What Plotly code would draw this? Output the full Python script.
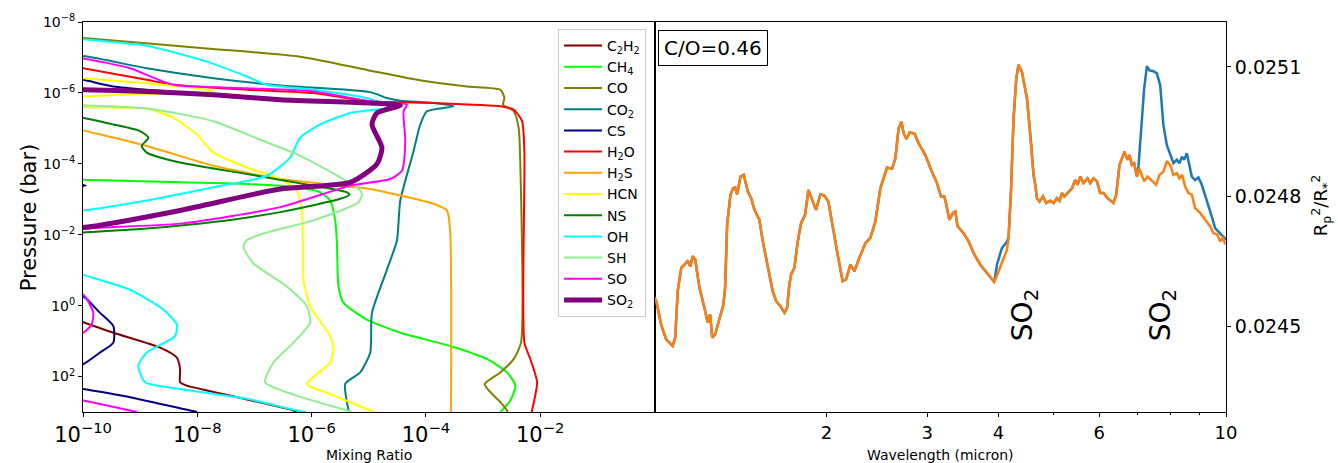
import numpy as np
import plotly.graph_objects as go

# ---------------- Left panel: mixing-ratio profiles (log10 values) ----------------
species = ["C<sub>2</sub>H<sub>2</sub>", "CH<sub>4</sub>", "CO", "CO<sub>2</sub>", "CS",
           "H<sub>2</sub>O", "H<sub>2</sub>S", "HCN", "NS", "OH", "SH", "SO", "SO<sub>2</sub>"]
colors = ["#800000", "#00ff00", "#808000", "#008080", "#000080", "#ff0000", "#ffa500",
          "#ffff00", "#008000", "#00ffff", "#90ee90", "#ff00ff", "#800080"]
widths = [2, 2, 2, 2, 2, 2, 2, 2, 2, 2, 2, 2, 5]

c2h2_logP = [0.0, 0.467, 0.764, 1.183, 1.463, 1.790, 2.162, 2.257, 2.537, 2.957, 3.0]
c2h2_logX = [-10.8, -9.995, -9.469, -8.651, -8.359, -8.301, -8.301, -8.184, -7.426, -6.317, -6.26]

ch4_logP = [-3.60, -3.552, -3.477, -3.432, -3.337, -3.197, -2.965, -2.406, -1.846, -0.540, -0.076,
            0.392, 0.764, 1.139, 1.510, 1.883, 2.257, 2.677, 2.957, 3.0]
ch4_logX = [-11, -9.995, -8.301, -7.133, -6.258, -5.849, -5.674, -5.587, -5.559, -5.529, -5.441,
            -5.032, -4.448, -3.573, -2.930, -2.580, -2.434, -2.522, -2.669, -2.69]

co_logP = [-7.65, -7.552, -7.253, -7.021, -6.649, -6.350, -6.182, -6.090, -5.855, -5.670, -5.483,
           -5.015, -3.916, 1.035, 1.510, 1.883, 2.210, 2.442, 2.722, 2.957, 3.0]
co_logX = [-11, -9.995, -7.834, -6.200, -5.032, -4.082, -3.280, -2.697, -2.627, -2.650, -2.464,
           -2.377, -2.347, -2.335, -2.464, -2.697, -2.972, -2.872, -2.697, -2.580, -2.57]

co2_logP = [-7.10, -7.041, -6.694, -6.414, -6.210, -6.022, -5.855, -5.782, -5.715, -5.622, -5.483,
            -5.111, -4.364, -2.965, -1.846, -1.007, 0.204, 1.323, 1.883, 2.210, 2.957, 3.0]
co2_logX = [-11, -9.995, -8.884, -7.718, -6.550, -4.974, -4.683, -4.448, -3.865, -3.515, -3.982,
            -4.098, -4.215, -4.448, -4.506, -4.683, -4.944, -4.974, -5.149, -5.412, -5.354, -5.35]

cs_logP = [-6.65, -6.369, -6.182, -6.090, -6.05, None, -3.50, -3.385, -3.27, None,
           -0.60, -0.260, 0.204, 0.579, 1.043, 1.323, 1.650, 1.90, None, 2.20, 2.350, 2.582, 2.957, 3.0]
cs_logX = [-11, -9.995, -9.47, -8.884, -8.5, None, -10.4, -9.95, -10.4, None,
           -10.6, -9.995, -9.702, -9.469, -9.469, -9.702, -9.995, -10.5, None, -10.5, -9.995, -9.177, -8.126, -8.0]

h2o_logP = [-6.85, -6.694, -6.369, -6.229, -6.090, -5.994, -5.762, -5.715, -5.622, -5.530, -5.203,
            -4.364, 1.035, 1.510, 2.162, 2.957, 3.0]
h2o_logX = [-10.6, -9.995, -8.884, -8.419, -7.133, -5.972, -4.974, -3.865, -2.697, -2.464, -2.317,
            -2.277, -2.277, -2.172, -2.054, -2.142, -2.145]

h2s_logP = [-5.15, -4.943, -4.503, -3.944, -3.572, -3.292, -3.105, -2.873, -2.685, -2.034, 2.957, 3.0]
h2s_logX = [-10.5, -9.995, -8.884, -7.718, -6.550, -4.974, -4.448, -3.865, -3.632, -3.573, -3.561, -3.561]

hcn_logP = [-6.55, -6.414, -6.274, -6.090, -6.028, -5.972, -5.902, -5.80, -5.65, -5.594, -5.558,
            -5.295, -4.831, -4.316, -3.897, -3.572, -3.245, -2.593, -1.846, -0.727, 0.020, 0.859,
            1.231, 1.603, 2.210, 2.490, 2.957, 3.0]
hcn_logX = [-10.8, -9.995, -8.884, -7.833, -7.72, -8.884, -9.995, -11, -11, -9.995, -8.884,
            -8.419, -8.009, -7.718, -7.133, -6.550, -6.258, -6.170, -6.152, -6.142, -6.025, -5.674,
            -5.616, -5.674, -6.082, -5.674, -4.974, -4.9]

ns_logP = [-5.40, -5.295, -5.110, -4.923, -4.736, -4.503, -4.316, -4.036, -3.712, -3.385, -3.197,
           -3.133, -3.013, -2.638, -2.358, -2.173, -2.061, -1.95]
ns_logX = [-10.7, -9.995, -9.469, -9.002, -8.856, -8.972, -8.884, -8.301, -7.133, -5.967, -5.384,
           -5.338, -5.499, -6.550, -7.718, -8.884, -9.995, -11]

oh_logP = [-7.65, -7.516, -7.329, -6.881, -6.462, -6.229, -6.090, -5.855, -5.594, -5.552, -5.435,
           -5.110, -4.736, -4.176, -3.664, -3.337, -2.965, -2.685, -2.55, -1.25, -0.867, -0.448,
           0.112, 0.531, 0.859, 1.323, 1.698, 2.162, 2.350, 2.629, 2.957, 3.0]
oh_logX = [-10.8, -9.995, -8.884, -7.833, -7.133, -6.783, -5.967, -5.032, -4.606, -4.741, -5.324,
           -5.849, -6.200, -6.375, -6.783, -7.718, -8.884, -9.995, -11, -10.75, -9.995, -9.177,
           -8.594, -8.359, -8.389, -8.884, -9.032, -8.914, -8.301, -7.133, -6.259, -6.1]

sh_logP = [-5.75, -5.650, -5.558, -5.203, -4.643, -4.271, -3.617, -3.337, -3.152, -2.917, -2.406,
           -2.034, -1.846, -1.659, -1.194, -0.540, 0.020, 0.484, 1.043, 1.603, 2.162, 2.537, 2.957, 3.0]
sh_logX = [-11, -9.995, -8.884, -7.718, -6.842, -6.258, -5.499, -5.207, -5.120, -5.179, -5.967,
           -6.842, -7.133, -7.194, -7.019, -6.434, -6.082, -6.025, -6.317, -6.667, -6.813, -6.259, -5.382, -5.30]

so_logP = [-7.10, -6.973, -6.694, -6.229, -6.134, -6.042, -5.762, -5.670, -5.483, -4.643, -3.804,
           -3.572, -3.385, -2.778, -2.313, -2.182, -2.05, None, -0.55, -0.308, 0.204, 0.531, 0.764,
           1.0, None, 2.5, 2.677, 2.957, 3.0]
so_logX = [-10.8, -9.995, -9.177, -8.419, -7.133, -5.967, -4.974, -4.331, -4.391, -4.361, -4.420,
           -4.623, -5.324, -6.550, -8.301, -9.995, -11, None, -10.6, -9.995, -9.820, -9.848, -9.995,
           -10.6, None, -10.6, -9.995, -9.177, -9.05]

so2_logP = [-6.12, -6.090, -6.042, -5.950, -5.810, -5.715, -5.650, -5.435, -5.111, -4.456, -3.992,
            -3.477, -3.292, -2.685, -2.201, -2.12]
so2_logX = [-11, -9.995, -8.884, -7.718, -6.550, -4.974, -4.448, -4.856, -4.944, -4.769, -4.856,
            -5.324, -6.550, -8.301, -9.995, -11]

profiles = [(c2h2_logX, c2h2_logP), (ch4_logX, ch4_logP), (co_logX, co_logP), (co2_logX, co2_logP),
            (cs_logX, cs_logP), (h2o_logX, h2o_logP), (h2s_logX, h2s_logP), (hcn_logX, hcn_logP),
            (ns_logX, ns_logP), (oh_logX, oh_logP), (sh_logX, sh_logP), (so_logX, so_logP),
            (so2_logX, so2_logP)]

# ---------------- Right panel: transmission spectrum ----------------
wavelength = [1.000, 1.007, 1.027, 1.048, 1.076, 1.087, 1.098, 1.114, 1.136, 1.143,
              1.155, 1.167, 1.178, 1.199, 1.223, 1.239, 1.251, 1.262, 1.277, 1.299,
              1.320, 1.329, 1.340, 1.358, 1.373, 1.384, 1.395, 1.414, 1.433, 1.456,
              1.476, 1.496, 1.526, 1.547, 1.578, 1.610, 1.632, 1.661, 1.688, 1.706,
              1.722, 1.734, 1.757, 1.781, 1.805, 1.835, 1.859, 1.884, 1.917, 1.951,
              1.982, 2.015, 2.050, 2.092, 2.134, 2.164, 2.202, 2.237, 2.277, 2.339,
              2.386, 2.435, 2.484, 2.518, 2.552, 2.604, 2.639, 2.674, 2.704, 2.729,
              2.759, 2.795, 2.849, 2.899, 2.978, 3.047, 3.121, 3.172, 3.215, 3.241,
              3.280, 3.329, 3.360, 3.391, 3.474, 3.545, 3.617, 3.716, 3.818, 3.931,
              4.000, 4.081, 4.138, 4.164, 4.205, 4.249, 4.295, 4.335, 4.395, 4.485,
              4.558, 4.605, 4.637, 4.669, 4.718, 4.783, 4.847, 4.926, 4.992, 5.060,
              5.114, 5.163, 5.211, 5.302, 5.375, 5.447, 5.498, 5.558, 5.632, 5.724,
              5.786, 5.864, 5.945, 6.024, 6.105, 6.204, 6.355, 6.425, 6.511, 6.643,
              6.724, 6.778, 6.844, 6.907, 6.983, 7.048, 7.125, 7.191, 7.287, 7.388,
              7.547, 7.648, 7.772, 7.880, 7.985, 8.092, 8.203, 8.290, 8.380, 8.482,
              8.595, 8.714, 8.830, 9.010, 9.193, 9.380, 9.506, 9.656, 9.762, 9.868,
              9.960, 10.0]
depth_no_so2 = [0.024565, 0.024558, 0.024504, 0.024469, 0.024454, 0.024473, 0.024581, 0.024635, 0.024646, 0.024652,
                0.024638, 0.024662, 0.024654, 0.024588, 0.024542, 0.024508, 0.024527, 0.024473, 0.024481, 0.024519,
                0.024550, 0.024588, 0.024735, 0.024804, 0.024819, 0.024821, 0.024805, 0.024846, 0.024850, 0.024812,
                0.024796, 0.024769, 0.024746, 0.024696, 0.024635, 0.024581, 0.024558, 0.024546, 0.024531, 0.024542,
                0.024596, 0.024619, 0.024635, 0.024696, 0.024738, 0.024758, 0.024815, 0.024796, 0.024769, 0.024805,
                0.024802, 0.024788, 0.024727, 0.024665, 0.024604, 0.024608, 0.024642, 0.024627, 0.024654, 0.024692,
                0.024704, 0.024742, 0.024819, 0.024842, 0.024867, 0.024864, 0.024888, 0.024958, 0.024973, 0.024946,
                0.024933, 0.024948, 0.024946, 0.024923, 0.024896, 0.024862, 0.024831, 0.024800, 0.024800, 0.024781,
                0.024746, 0.024762, 0.024765, 0.024731, 0.024715, 0.024696, 0.024669, 0.024642, 0.024623, 0.024602,
                0.024627, 0.024658, 0.024677, 0.024704, 0.024812, 0.024981, 0.025073, 0.025105, 0.025088, 0.025027,
                0.024927, 0.024850, 0.024827, 0.024796, 0.024788, 0.024800, 0.024785, 0.024790, 0.024785, 0.024796,
                0.024790, 0.024808, 0.024800, 0.024812, 0.024819, 0.024838, 0.024827, 0.024846, 0.024831, 0.024842,
                0.024831, 0.024842, 0.024835, 0.024808, 0.024808, 0.024796, 0.024785, 0.024804, 0.024873, 0.024904,
                0.024885, 0.024896, 0.024873, 0.024877, 0.024846, 0.024865, 0.024850, 0.024835, 0.024846, 0.024838,
                0.024827, 0.024850, 0.024858, 0.024882, 0.024873, 0.024850, 0.024854, 0.024842, 0.024850, 0.024823,
                0.024808, 0.024804, 0.024773, 0.024762, 0.024746, 0.024731, 0.024715, 0.024712, 0.024696, 0.024704,
                0.024692, 0.024690]

# segments where the full model (with SO2 opacity) differs
band1_wl = [3.931, 3.974, 4.055, 4.121, 4.164]
band1_depth = [0.024602, 0.024642, 0.024681, 0.024692, 0.024704]
band2_wl = [6.983, 7.028, 7.125, 7.191, 7.270, 7.346, 7.466, 7.569, 7.670, 7.772, 7.880, 7.985, 8.092,
            8.203, 8.290, 8.370, 8.448, 8.540, 8.630, 8.714, 8.830, 8.948, 9.072, 9.193, 9.316, 9.441,
            9.571, 9.695, 9.789, 9.892, 10.0]
band2_depth = [0.024846, 0.024869, 0.024965, 0.025050, 0.025102, 0.025092, 0.025090, 0.025085, 0.025058,
               0.024965, 0.024919, 0.024896, 0.024877, 0.024885, 0.024877, 0.024892, 0.024885, 0.024900,
               0.024873, 0.024846, 0.024838, 0.024844, 0.024827, 0.024804, 0.024781, 0.024754, 0.024727,
               0.024719, 0.024712, 0.024708, 0.024700]

wl_arr = np.array(wavelength)
dp_arr = np.array(depth_no_so2)
m1 = wl_arr < band1_wl[0]
m2 = (wl_arr > band1_wl[-1]) & (wl_arr < band2_wl[0])
full_wl = np.concatenate([wl_arr[m1], band1_wl, wl_arr[m2], band2_wl])
full_dp = np.concatenate([dp_arr[m1], band1_depth, dp_arr[m2], band2_depth])

FONT = "DejaVu Sans"
fig = go.Figure()

for name, col, w, (lx, lp) in zip(species, colors, widths, profiles):
    x = 10 ** np.array(lx, dtype=float)
    y = 10 ** np.array(lp, dtype=float)
    fig.add_trace(go.Scatter(x=x, y=y, mode="lines", name=name,
                             line=dict(color=col, width=w, shape="spline", smoothing=0.6),
                             xaxis="x", yaxis="y"))

fig.add_trace(go.Scatter(x=full_wl, y=full_dp, mode="lines", line=dict(color="#1f77b4", width=2.5),
                         xaxis="x2", yaxis="y2", showlegend=False))
fig.add_trace(go.Scatter(x=wl_arr, y=dp_arr, mode="lines", line=dict(color="#ff7f0e", width=2.5),
                         xaxis="x2", yaxis="y2", showlegend=False))

axis_common = dict(showline=True, mirror=True, linecolor="black", linewidth=1, ticks="outside",
                   ticklen=4, tickcolor="black", showgrid=False, zeroline=False)

fig.update_layout(
    width=1338, height=463,
    margin=dict(l=83, r=112, t=20, b=51),
    paper_bgcolor="white", plot_bgcolor="white",
    font=dict(family=FONT, color="black"),
    xaxis=dict(domain=[0, 0.5], type="log", range=[-10, 0], anchor="y",
               tickvals=[1e-10, 1e-8, 1e-6, 1e-4, 1e-2],
               ticktext=["10<sup>−10</sup>", "10<sup>−8</sup>", "10<sup>−6</sup>", "10<sup>−4</sup>", "10<sup>−2</sup>"],
               tickfont=dict(size=21), **axis_common),
    yaxis=dict(domain=[0, 1], type="log", range=[3, -8], anchor="x",
               tickvals=[1e-8, 1e-6, 1e-4, 1e-2, 1e0, 1e2],
               ticktext=["10<sup>−8</sup>", "10<sup>−6</sup>", "10<sup>−4</sup>", "10<sup>−2</sup>", "10<sup>0</sup>", "10<sup>2</sup>"],
               tickfont=dict(size=14), **axis_common),
    xaxis2=dict(domain=[0.5, 1], type="log", range=[0, 1], anchor="y2",
                tickvals=[2, 3, 4, 6, 10], ticktext=["2", "3", "4", "6", "10"],
                tickfont=dict(size=18),
                minor=dict(tickvals=[5, 7, 8, 9], ticks="outside", ticklen=2, tickcolor="black"),
                **axis_common),
    yaxis2=dict(domain=[0, 1], range=[0.024301, 0.025204], anchor="x2", side="right",
                tickvals=[0.0245, 0.0248, 0.0251], ticktext=["0.0245", "0.0248", "0.0251"],
                tickfont=dict(size=19), **axis_common),
    legend=dict(x=0.4926, xanchor="right", y=0.982, yanchor="top", bgcolor="white",
                bordercolor="#cccccc", borderwidth=1, font=dict(size=14, family=FONT),
                tracegroupgap=0, itemwidth=38),
    showlegend=True,
)

ann = [
    dict(text="Mixing Ratio", xref="paper", yref="paper", x=0.25, y=-0.11, showarrow=False,
         font=dict(size=14), xanchor="center", yanchor="middle"),
    dict(text="Wavelength (micron)", xref="paper", yref="paper", x=0.75, y=-0.11, showarrow=False,
         font=dict(size=14), xanchor="center", yanchor="middle"),
    dict(text="Pressure (bar)", xref="paper", yref="paper", x=-0.047, y=0.50, showarrow=False,
         font=dict(size=21), textangle=-90, xanchor="center", yanchor="middle"),
    dict(text="R<sub>p</sub><sup>2</sup>/R<sub>*</sub><sup>2</sup>", xref="paper", yref="paper",
         x=1.083, y=0.53, showarrow=False, font=dict(size=18), textangle=-90,
         xanchor="center", yanchor="middle"),
    dict(text="C/O=0.46", xref="x2 domain", yref="y2 domain", x=0.006, y=0.98, showarrow=False,
         font=dict(size=20), xanchor="left", yanchor="top", bordercolor="black", borderwidth=1,
         borderpad=5, bgcolor="white"),
    dict(text="SO<sub>2</sub>", xref="x2", yref="y2", x=np.log10(4.43), y=0.024525, showarrow=False,
         font=dict(size=28), textangle=-90, xanchor="center", yanchor="middle"),
    dict(text="SO<sub>2</sub>", xref="x2", yref="y2", x=np.log10(7.73), y=0.024525, showarrow=False,
         font=dict(size=28), textangle=-90, xanchor="center", yanchor="middle"),
]
fig.update_layout(annotations=ann)

fig.write_html("out.html", config={"displayModeBar": False},
               post_script="document.body.style.margin='0';document.body.style.padding='0';"
                           "document.body.style.overflow='hidden';")
